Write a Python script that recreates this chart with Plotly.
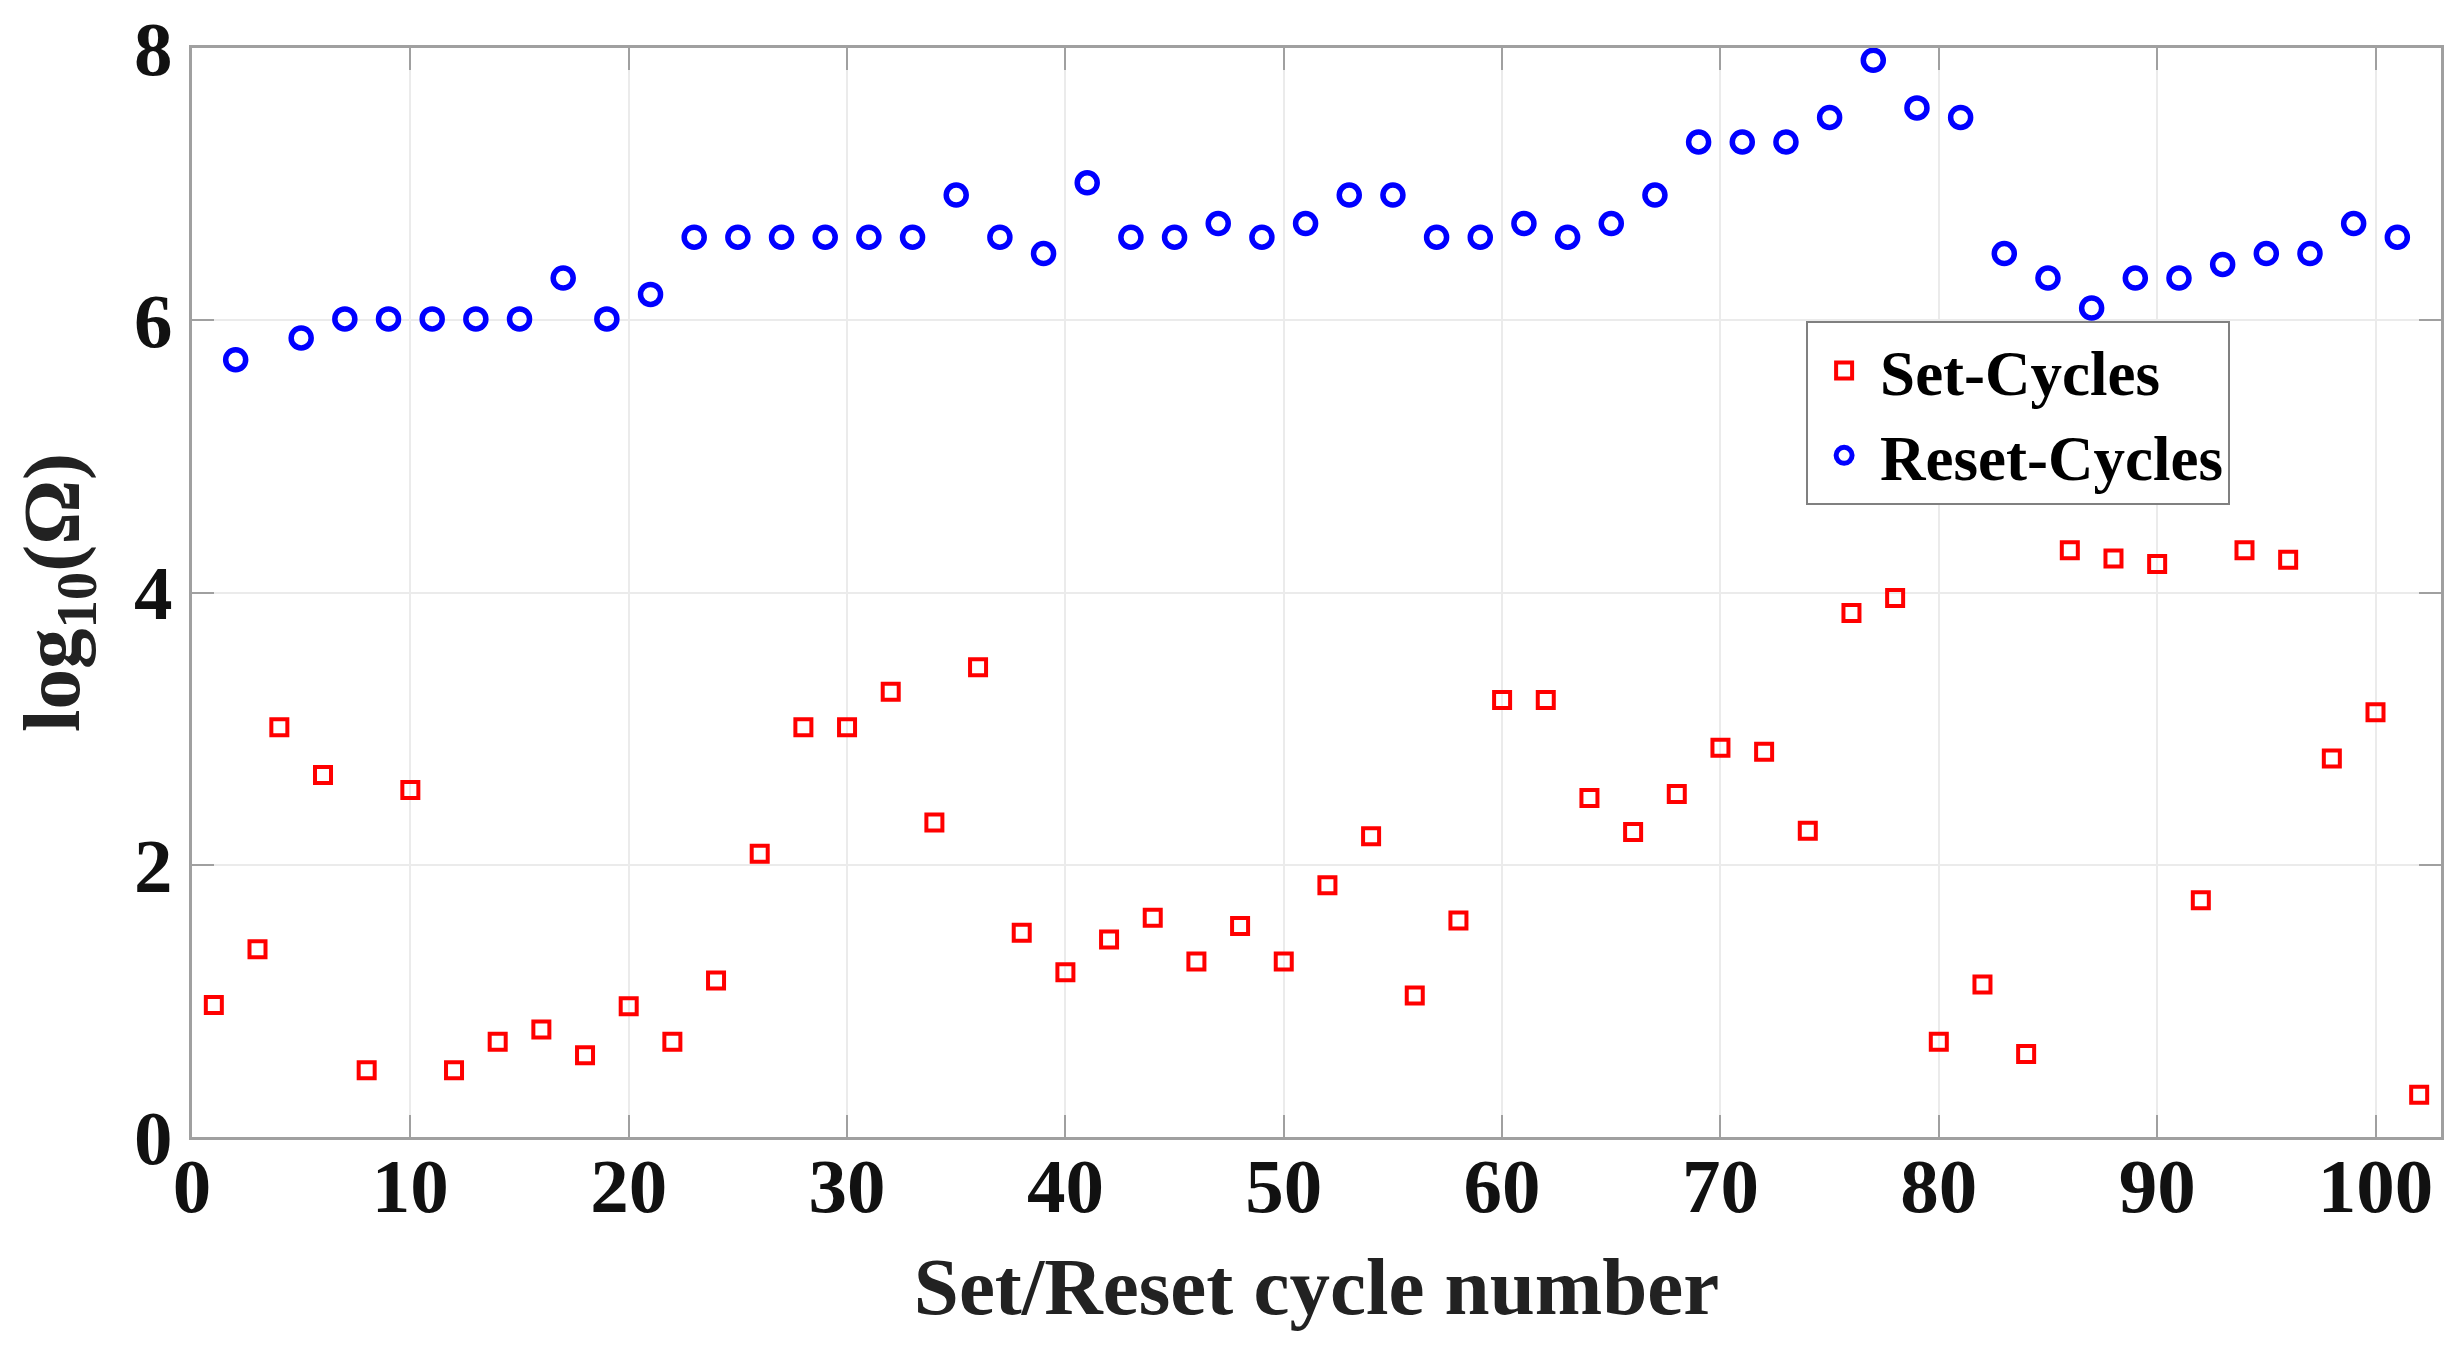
import plotly.graph_objects as go

# Set-Cycles (red squares)
set_x = [1, 3, 4, 6, 8, 10, 12, 14, 16, 18, 20, 22, 24, 26, 28, 30, 32, 34, 36, 38,
         40, 42, 44, 46, 48, 50, 52, 54, 56, 58, 60, 62, 64, 66, 68, 70, 72, 74, 76, 78,
         80, 82, 84, 86, 88, 90, 92, 94, 96, 98, 100, 102]
set_y = [0.97, 1.38, 3.01, 2.66, 0.49, 2.55, 0.49, 0.70, 0.79, 0.60, 0.96, 0.70, 1.15, 2.08,
         3.01, 3.01, 3.27, 2.31, 3.45, 1.50, 1.21, 1.45, 1.61, 1.29, 1.55, 1.29, 1.85, 2.21,
         1.04, 1.59, 3.21, 3.21, 2.49, 2.24, 2.52, 2.86, 2.83, 2.25, 3.85, 3.96, 0.70, 1.12,
         0.61, 4.31, 4.25, 4.21, 1.74, 4.31, 4.24, 2.78, 3.12, 0.31]

# Reset-Cycles (blue circles)
reset_x = [2, 5, 7, 9, 11, 13, 15, 17, 19, 21, 23, 25, 27, 29, 31, 33, 35, 37, 39, 41,
           43, 45, 47, 49, 51, 53, 55, 57, 59, 61, 63, 65, 67, 69, 71, 73, 75, 77, 79, 81,
           83, 85, 87, 89, 91, 93, 95, 97, 99, 101]
reset_y = [5.71, 5.87, 6.01, 6.01, 6.01, 6.01, 6.01, 6.31, 6.01, 6.19, 6.61, 6.61, 6.61, 6.61,
           6.61, 6.61, 6.92, 6.61, 6.49, 7.01, 6.61, 6.61, 6.71, 6.61, 6.71, 6.92, 6.92, 6.61,
           6.61, 6.71, 6.61, 6.71, 6.92, 7.31, 7.31, 7.31, 7.49, 7.91, 7.56, 7.49, 6.49, 6.31,
           6.09, 6.31, 6.31, 6.41, 6.49, 6.49, 6.71, 6.61]

x_ticks = [0, 10, 20, 30, 40, 50, 60, 70, 80, 90, 100]
y_ticks = [0, 2, 4, 6, 8]

FONT = "Liberation Serif"
AXIS_COL = "#a0a0a0"

fig = go.Figure()
fig.add_trace(go.Scatter(
    x=set_x, y=set_y, mode="markers", name="Set-Cycles",
    marker=dict(symbol="square-open", size=16, color="#ff0000",
                line=dict(color="#ff0000", width=4)),
))
fig.add_trace(go.Scatter(
    x=reset_x, y=reset_y, mode="markers", name="Reset-Cycles",
    marker=dict(symbol="circle-open", size=20, color="#0000ff",
                line=dict(color="#0000ff", width=5.5)),
))

axis_common = dict(
    showline=True, linecolor=AXIS_COL, linewidth=3, mirror="ticks",
    ticks="inside", ticklen=22, tickwidth=2, tickcolor=AXIS_COL,
    showgrid=True, gridcolor="#ebebeb", gridwidth=2, zeroline=False,
    tickfont=dict(family=FONT, size=77, color="#111111", weight="bold"),
)

fig.update_xaxes(
    range=[0, 103], tickvals=x_ticks, ticktext=[str(v) for v in x_ticks],
    title=dict(text="Set/Reset cycle number",
               font=dict(family=FONT, size=81, color="#222222", weight="bold"),
               standoff=29),
    ticklabelstandoff=-20,
    **axis_common,
)
fig.update_yaxes(
    range=[0, 8], tickvals=y_ticks, ticktext=[str(v) for v in y_ticks],
    title=dict(text="log<sub>10</sub>(Ω)",
               font=dict(family=FONT, size=81, color="#222222", weight="bold"),
               standoff=28),
    ticklabelstandoff=1,
    **axis_common,
)

fig.update_layout(
    width=2460, height=1345,
    margin=dict(l=192, r=19, t=48, b=208, autoexpand=False),
    plot_bgcolor="white", paper_bgcolor="white",
    showlegend=True,
    legend=dict(
        x=0.7177, y=0.7493, xanchor="left", yanchor="top",
        bgcolor="white", bordercolor="#808080", borderwidth=2,
        font=dict(family=FONT, size=63, color="#000000", weight="bold"),
        itemsizing="trace", itemwidth=62, tracegroupgap=0,
    ),
)

fig.write_html("out.html", config={"displayModeBar": False},
               post_script="document.body.style.margin='0';document.body.style.overflow='hidden';")
